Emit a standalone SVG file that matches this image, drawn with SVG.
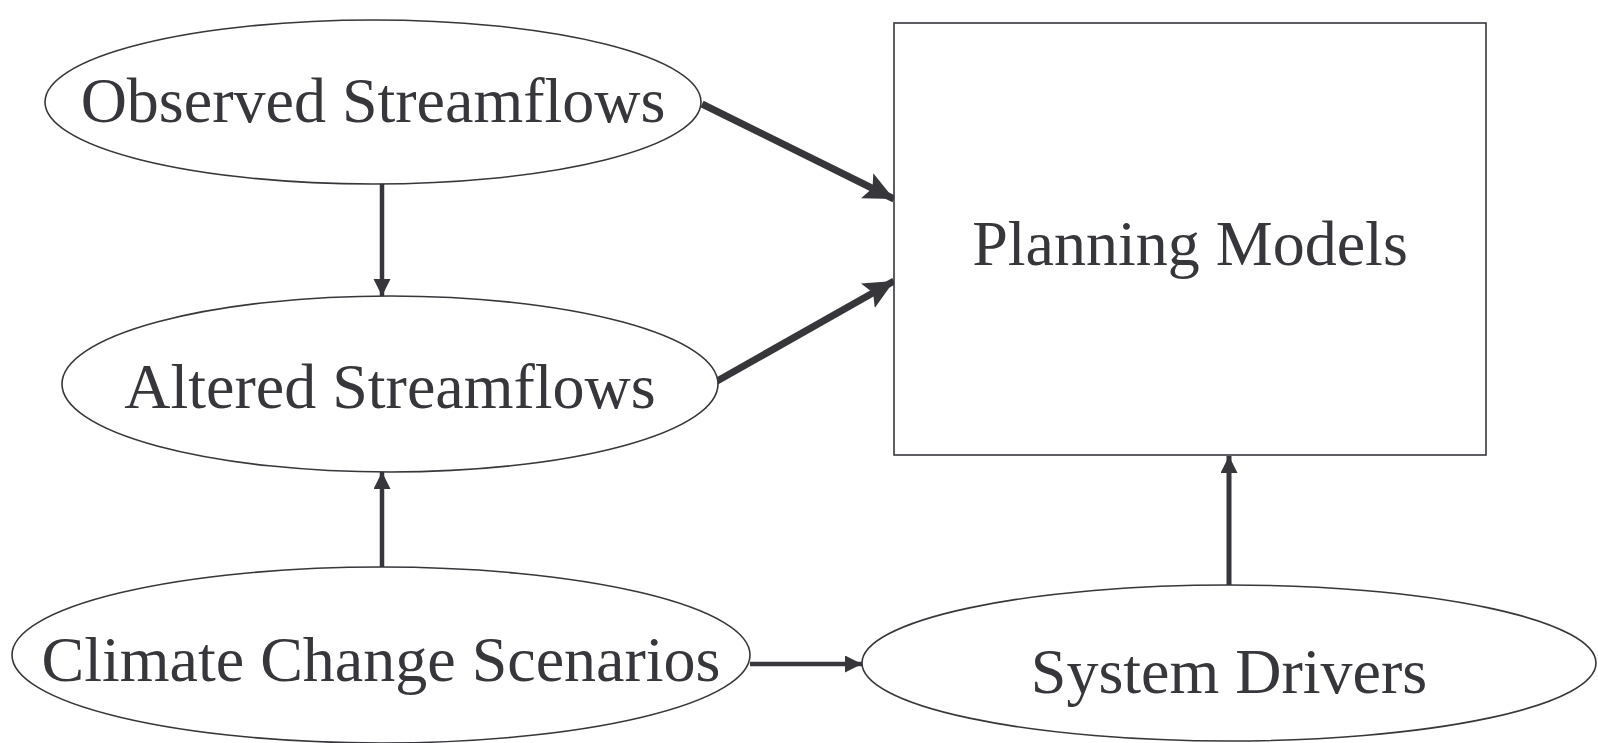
<svg xmlns="http://www.w3.org/2000/svg" width="1598" height="743" viewBox="0 0 1598 743">
<style>
.node{fill:#fff;stroke:#37363b;stroke-width:1.6}
.lbl{font-size:64px;fill:#37363b;text-anchor:middle}
.edge{stroke:#37363b;fill:none}
</style>
<defs>
<marker id="big" markerUnits="userSpaceOnUse" markerWidth="32" markerHeight="28" refX="30" refY="14" orient="auto"><path d="M0,0 L30,14 L0,28 L6,14 Z" fill="#37363b"/></marker>
<marker id="small" markerUnits="userSpaceOnUse" markerWidth="18" markerHeight="18" refX="17" refY="8.5" orient="auto"><path d="M0,0 L17,8.5 L0,17 Z" fill="#37363b"/></marker>
</defs>
<rect width="1598" height="743" fill="#fff"/>
<g id="connectors">
<line class="edge" x1="702" y1="104" x2="894" y2="199" stroke-width="7" marker-end="url(#big)"/>
<line class="edge" x1="703" y1="389" x2="894" y2="281" stroke-width="7" marker-end="url(#big)"/>
<line class="edge" x1="382" y1="183" x2="382" y2="296" stroke-width="4.5" marker-end="url(#small)"/>
<line class="edge" x1="382" y1="568" x2="382" y2="472" stroke-width="4.5" marker-end="url(#small)"/>
<line class="edge" x1="750" y1="664" x2="862" y2="664" stroke-width="4.5" marker-end="url(#small)"/>
<line class="edge" x1="1229" y1="600" x2="1229" y2="456" stroke-width="5" marker-end="url(#small)"/>
</g>
<g id="observed">
<ellipse class="node" cx="373" cy="102" rx="328" ry="82"/>
<text class="lbl" font-family="Liberation Serif, Tinos, Times New Roman, DejaVu Serif, serif" x="373" y="122">Observed Streamflows</text>
</g>
<g id="altered">
<ellipse class="node" cx="390" cy="384" rx="328" ry="88"/>
<text class="lbl" font-family="Liberation Serif, Tinos, Times New Roman, DejaVu Serif, serif" x="390" y="408">Altered Streamflows</text>
</g>
<g id="climate">
<ellipse class="node" cx="381" cy="655" rx="369" ry="88"/>
<text class="lbl" font-family="Liberation Serif, Tinos, Times New Roman, DejaVu Serif, serif" x="381" y="681">Climate Change Scenarios</text>
</g>
<g id="drivers">
<ellipse class="node" cx="1229" cy="663" rx="367" ry="78"/>
<text class="lbl" font-family="Liberation Serif, Tinos, Times New Roman, DejaVu Serif, serif" x="1229" y="693">System Drivers</text>
</g>
<g id="planning">
<rect class="node" x="894" y="23" width="592" height="432"/>
<text class="lbl" font-family="Liberation Serif, Tinos, Times New Roman, DejaVu Serif, serif" x="1190" y="265">Planning Models</text>
</g>
</svg>
